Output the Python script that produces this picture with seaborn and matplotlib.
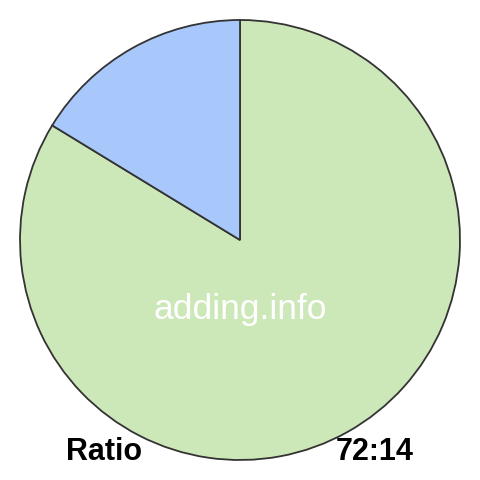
import matplotlib
matplotlib.use("Agg")
import matplotlib.pyplot as plt
import seaborn as sns

# slice values, drawn clockwise from 12 o'clock
labels = ["72", "14"]
values = [72, 14]
colors = ["#cde8b8", "#a8c8fc"]

watermark = "adding.info"
footer_left = "Ratio"
footer_right = "72:14"

sns.set_theme(style="white")
plt.rcParams["font.family"] = ["Liberation Sans", "DejaVu Sans"]

fig = plt.figure(figsize=(4.8, 4.8), dpi=100)
ax = fig.add_axes([0, 0, 1, 1])

ax.pie(
    values,
    colors=colors,
    startangle=90,
    counterclock=False,
    radius=220,
    center=(240, 240),
    wedgeprops={"edgecolor": "#333333", "linewidth": 1.3},
    frame=True,
)

ax.set_xlim(0, 480)
ax.set_ylim(0, 480)
ax.set_aspect("equal")
ax.axis("off")

ax.text(240, 170, watermark, color="white", fontsize=25.5,
        ha="center", va="center")
ax.text(104, 28, footer_left, fontsize=22, fontweight="bold",
        ha="center", va="center", color="black")
ax.text(375, 28, footer_right, fontsize=22, fontweight="bold",
        ha="center", va="center", color="black")

fig.savefig("out.png", dpi=100)
